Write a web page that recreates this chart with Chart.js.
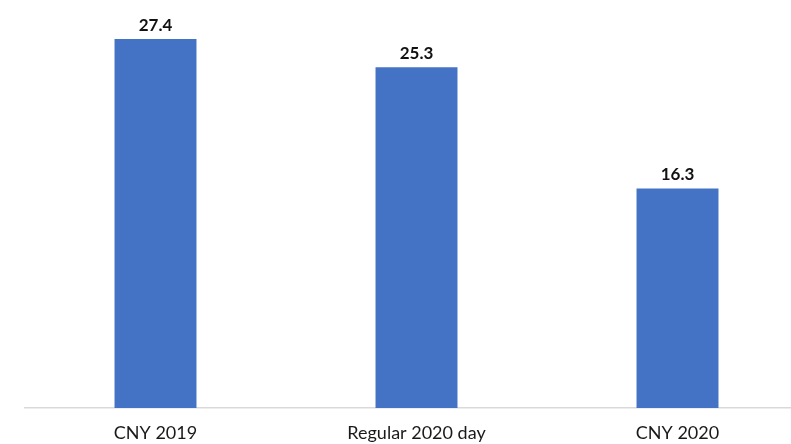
<!DOCTYPE html>
<html>
<head>
<meta charset="utf-8">
<script src="https://cdn.jsdelivr.net/npm/chart.js@4/dist/chart.umd.min.js"></script>
<style>
  html, body { margin: 0; padding: 0; background: #fff; overflow: hidden; }
  #wrap { position: relative; width: 820px; height: 444px; }
</style>
</head>
<body>
<div id="wrap"><canvas id="grafico"></canvas></div>
<script>
const categorias = ['CNY 2019', 'Regular 2020 day', 'CNY 2020'];
const valores = [27.4, 25.3, 16.3];

// etiquetas encima de cada barra
const etiquetasBarra = {
    id: 'etiquetasBarra',
    afterDatasetsDraw(chart) {
        const ctx = chart.ctx;
        const meta = chart.getDatasetMeta(0);
        ctx.save();
        ctx.font = 'bold 17px Lato';
        ctx.fillStyle = '#111';
        ctx.textAlign = 'center';
        ctx.textBaseline = 'alphabetic';
        meta.data.forEach((bar, i) => {
            ctx.fillText(valores[i].toFixed(1), bar.x, bar.y - 8);
        });
        ctx.restore();
    }
};

new Chart(document.getElementById('grafico'), {
    type: 'bar',
    data: {
        labels: categorias,
        datasets: [{ data: valores, backgroundColor: '#4472C4', barPercentage: 0.314, categoryPercentage: 1 }]
    },
    options: {
        responsive: true,
        maintainAspectRatio: false,
        animation: false,
        layout: { padding: { left: 25, right: 12, top: 4, bottom: 0 } },
        plugins: { legend: { display: false }, tooltip: { enabled: false } },
        scales: {
            x: {
                grid: { display: false, drawTicks: false },
                border: { display: true, color: '#d9d9d9', width: 1.5 },
                ticks: { color: '#1a1a1a', font: { family: 'Lato', size: 18 }, padding: 14 },
                afterFit(scale) { scale.height = 36; }
            },
            y: {
                display: false,
                min: 0,
                max: 30
            }
        }
    },
    plugins: [etiquetasBarra]
});
</script>
</body>
</html>
